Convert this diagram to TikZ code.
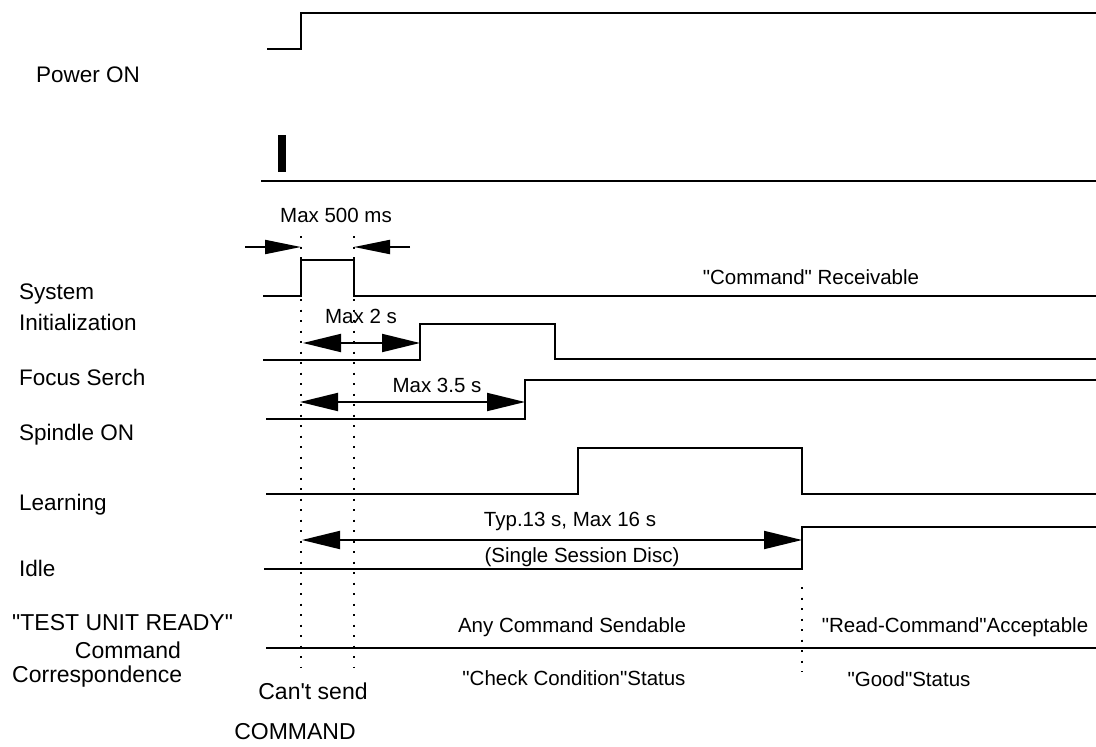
\documentclass[tikz,border=0pt]{standalone}
\usepackage{fontspec}
\setmainfont{Liberation Sans}[Ligatures=TeXOff]
\usetikzlibrary{arrows.meta}
\tikzset{
  signal/.style={line width=2pt},
  marker/.style={line width=2pt, dash pattern=on 2pt off 8.5pt},
  span/.style={line width=2pt, {Triangle[length=38pt,width=18pt]}-{Triangle[length=38pt,width=18pt]}},
  limit/.style={line width=2pt, -{Triangle[length=36pt,width=14pt]}},
  lbl/.style={anchor=west, inner sep=0pt, font=\fontsize{22.5}{31}\selectfont},
  txt/.style={inner sep=0pt},
  bigtxt/.style={inner sep=0pt, font=\fontsize{23}{28}\selectfont}
}
\begin{document}
\begin{tikzpicture}[x=1pt,y=-1pt,font=\fontsize{20.5}{25}\selectfont]
  \useasboundingbox (0,0) rectangle (1096,747);
  % Parameters
  \def\xend{1096} % right end of every signal
  \coordinate (tA) at (301,0); % power on / init start
  \coordinate (tB) at (354,0); % init end
  \coordinate (tC) at (420,0); % focus search start
  \coordinate (tD) at (555,0); % focus search end
  \coordinate (tE) at (525,0); % spindle on
  \coordinate (tF) at (578,0); % learning start
  \coordinate (tG) at (802,0); % idle

  % Labels of the signals
  \node[lbl] (power) at (36,75) {Power ON};
  \node[lbl, align=left] (sysinit) at (19,307.5) {System\\Initialization};
  \node[lbl] (focus) at (19,377) {Focus Serch};
  \node[lbl] (spindle) at (19,435) {Spindle ON};
  \node[lbl] (learn) at (19,505) {Learning};
  \node[lbl] (idle) at (19,568) {Idle};
  \node[bigtxt, anchor=west] (tur) at (12,623) {"TEST UNIT READY"};
  \node[bigtxt] (turcmd) at (128,650) {Command};
  \node[bigtxt, anchor=west] (turcorr) at (12,677) {Correspondence};

  % Power ON
  \draw[signal] (267,49) -- (tA |- 0,49) -- (tA |- 0,13) -- (\xend,13);
  \fill (278,135) rectangle (286,172);
  \draw[signal] (261,181) -- (\xend,181);

  % System Initialization
  \draw[signal] (263,296) -- (tA |- 0,296) -- (tA |- 0,260) -- (tB |- 0,260) -- (tB |- 0,296) -- (\xend,296);
  % Focus Serch
  \draw[signal] (263,360) -- (tC |- 0,360) -- (tC |- 0,324) -- (tD |- 0,324) -- (tD |- 0,359) -- (\xend,359);
  % Spindle ON
  \draw[signal] (266,419) -- (tE |- 0,419) -- (tE |- 0,380) -- (\xend,380);
  % Learning
  \draw[signal] (266,494) -- (tF |- 0,494) -- (tF |- 0,448) -- (tG |- 0,448) -- (tG |- 0,494) -- (\xend,494);
  % Idle
  \draw[signal] (264,569) -- (tG |- 0,569) -- (tG |- 0,527) -- (\xend,527);
  % Command correspondence
  \draw[signal] (266,648) -- (\xend,648);

  % Dotted time markers
  \draw[marker] (tA |- 0,236) -- (tA |- 0,668);
  \draw[marker] (tB |- 0,236) -- (tB |- 0,668);
  \draw[marker] (tG |- 0,587) -- (tG |- 0,672);

  % Time spans
  \coordinate (inA) at (245,247);
  \coordinate (inB) at (410,247);
  \draw[limit] (inA) -- (tA |- inA);
  \draw[limit] (inB) -- (tB |- inB);
  \node[txt] (max500) at (336,215) {Max 500 ms};

  \draw[span] (303,343) -- (tC |- 0,343);
  \node[txt] (max2) at (361,316) {Max 2 s};

  \draw[span] (300,402) -- (tE |- 0,402);
  \node[txt] (max35) at (437,385) {Max 3.5 s};

  \draw[span] (302,540) -- (tG |- 0,540);
  \node[txt] (typ) at (570,521) {Typ.13 s, Max 16 s};
  \node[txt] (disc) at (582,557) {(Single Session Disc)};

  % Status texts
  \node[txt] (recv) at (811,277) {"Command" Receivable};
  \node[txt] (any) at (572,627) {Any Command Sendable};
  \node[txt] (read) at (955,627) {"Read-Command"Acceptable};
  \node[txt] (check) at (574,678) {"Check Condition"Status};
  \node[txt] (good) at (909,679) {"Good"Status};
  \node[bigtxt] (cant) at (313,691) {Can't send};
  \node[bigtxt] (cmd) at (295,732) {COMMAND};
\end{tikzpicture}
\end{document}
